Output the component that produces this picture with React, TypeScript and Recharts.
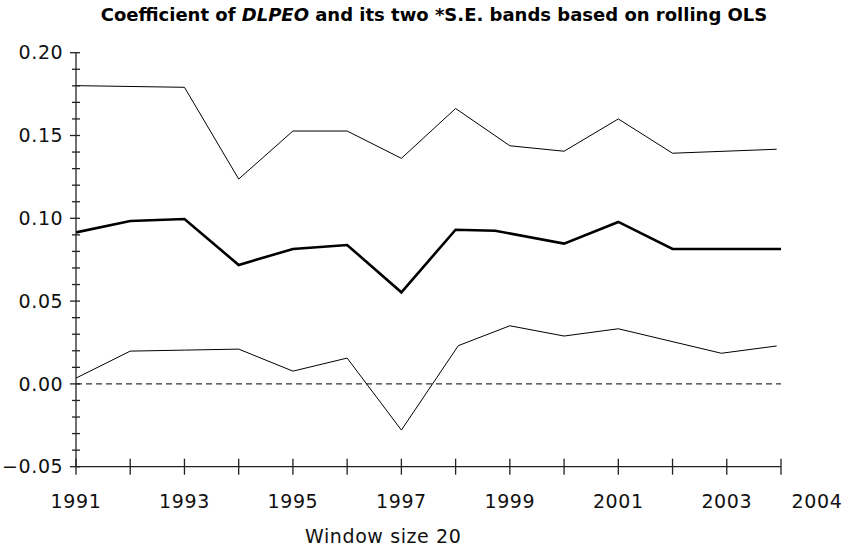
import React from "react";
import { LineChart, Line, XAxis, YAxis, ReferenceLine } from "recharts";

const upperX = [1991, 1993, 1994, 1995, 1996, 1997, 1998, 1999, 2000, 2001, 2002, 2003.92];
const upperY = [0.1801, 0.1791, 0.1237, 0.1527, 0.1527, 0.1362, 0.1663, 0.1438, 0.1405, 0.16, 0.1393, 0.1417];

const coefX = [1991, 1992, 1993, 1994, 1995, 1996, 1997, 1998, 1998.73, 2000, 2001, 2002, 2004];
const coefY = [0.0915, 0.0984, 0.0996, 0.0718, 0.0815, 0.0839, 0.0553, 0.0931, 0.0925, 0.0847, 0.0978, 0.0815, 0.0815];

const lowerX = [1991, 1992, 1993, 1994, 1995, 1996, 1997, 1998.05, 1999, 2000, 2001, 2002.9, 2003.92];
const lowerY = [0.0035, 0.0198, 0.0204, 0.021, 0.0077, 0.0156, -0.0279, 0.0231, 0.0351, 0.0289, 0.0333, 0.0185, 0.0229];

const xTicks = [1991, 1992, 1993, 1994, 1995, 1996, 1997, 1998, 1999, 2000, 2001, 2002, 2003, 2004];
const xLabelled = [1991, 1993, 1995, 1997, 1999, 2001, 2003, 2004];

const yTicks = [
  -0.05, -0.04, -0.03, -0.02, -0.01, 0, 0.01, 0.02, 0.03, 0.04, 0.05, 0.06, 0.07, 0.08, 0.09,
  0.1, 0.11, 0.12, 0.13, 0.14, 0.15, 0.16, 0.17, 0.18, 0.19, 0.2,
];
const yMajor = [-0.05, 0, 0.05, 0.1, 0.15, 0.2];
const yLabels = ["\u22120.05", "0.00", "0.05", "0.10", "0.15", "0.20"];

type Row = { x: number; upper?: number | null; coef?: number | null; lower?: number | null };

function buildRows(): Row[] {
  const map = new Map<number, Row>();
  const get = (x: number) => {
    if (!map.has(x)) map.set(x, { x, upper: null, coef: null, lower: null });
    return map.get(x)!;
  };
  upperX.forEach((x, i) => (get(x).upper = upperY[i]));
  coefX.forEach((x, i) => (get(x).coef = coefY[i]));
  lowerX.forEach((x, i) => (get(x).lower = lowerY[i]));
  return Array.from(map.values()).sort((a, b) => a.x - b.x);
}

const rows = buildRows();
const FONT = "'DejaVu Sans', sans-serif";
const AXIS = "#222";

const XTick = (props: any) => {
  const { x, y, payload } = props;
  const v = payload.value;
  const idx = xLabelled.indexOf(v);
  return (
    <g>
      <line x1={x} x2={x} y1={y - 8} y2={y + 8} stroke={AXIS} strokeWidth={1.3} />
      {idx >= 0 && (
        <text
          x={v === 2004 ? x + 36 : x}
          y={y + 41.6}
          textAnchor="middle"
          fontFamily={FONT}
          fontSize={19}
          letterSpacing={0.6}
          fill="#111"
        >
          {String(v)}
        </text>
      )}
    </g>
  );
};

const YTick = (props: any) => {
  const { x, y, payload } = props;
  const v = payload.value;
  let mi = -1;
  yMajor.forEach((m, i) => {
    if (Math.abs(m - v) < 1e-9) mi = i;
  });
  const major = mi >= 0;
  return (
    <g>
      <line x1={major ? x - 6 : x - 4} x2={x + 4} y1={y} y2={y} stroke={AXIS} strokeWidth={1.3} />
      {major && (
        <text
          x={x - 12.7}
          y={y + 6.6}
          textAnchor="end"
          fontFamily={FONT}
          fontSize={19}
          letterSpacing={0.6}
          fill="#111"
        >
          {yLabels[mi]}
        </text>
      )}
    </g>
  );
};

export default function App() {
  return (
    <div style={{ position: "absolute", left: 0, top: 0, background: "#fff" }}>
      <LineChart
        width={854}
        height={551}
        data={rows}
        margin={{ top: 52.7, right: 73, left: 0, bottom: 44.3 }}
      >
        <text
          x={434}
          y={20.7}
          textAnchor="middle"
          fontFamily={FONT}
          fontWeight="bold"
          fontSize={18}
          fill="#000"
        >
          Coefficient of <tspan fontStyle="italic">DLPEO</tspan> and its two *S.E. bands based on rolling OLS
        </text>
        <text x={305} y={543.3} textAnchor="start" fontFamily={FONT} fontSize={19} letterSpacing={0.6} fill="#111">
          Window size 20
        </text>
        <XAxis
          dataKey="x"
          type="number"
          domain={[1991, 2004]}
          ticks={xTicks}
          interval={0}
          allowDataOverflow
          height={40}
          tickLine={false}
          tickSize={0}
          tickMargin={0}
          axisLine={{ stroke: AXIS, strokeWidth: 1.3 }}
          tick={<XTick />}
        />
        <YAxis
          type="number"
          domain={[-0.05, 0.2]}
          ticks={yTicks}
          interval={0}
          allowDataOverflow
          width={76}
          tickLine={false}
          tickSize={0}
          tickMargin={0}
          axisLine={{ stroke: AXIS, strokeWidth: 1.3 }}
          tick={<YTick />}
        />
        <ReferenceLine y={0} stroke="#000" strokeWidth={1} strokeDasharray="6 4" />
        <Line dataKey="upper" type="linear" stroke="#000" strokeWidth={1} dot={false} connectNulls isAnimationActive={false} />
        <Line dataKey="coef" type="linear" stroke="#000" strokeWidth={2.6} dot={false} connectNulls isAnimationActive={false} />
        <Line dataKey="lower" type="linear" stroke="#000" strokeWidth={1} dot={false} connectNulls isAnimationActive={false} />
      </LineChart>
    </div>
  );
}
